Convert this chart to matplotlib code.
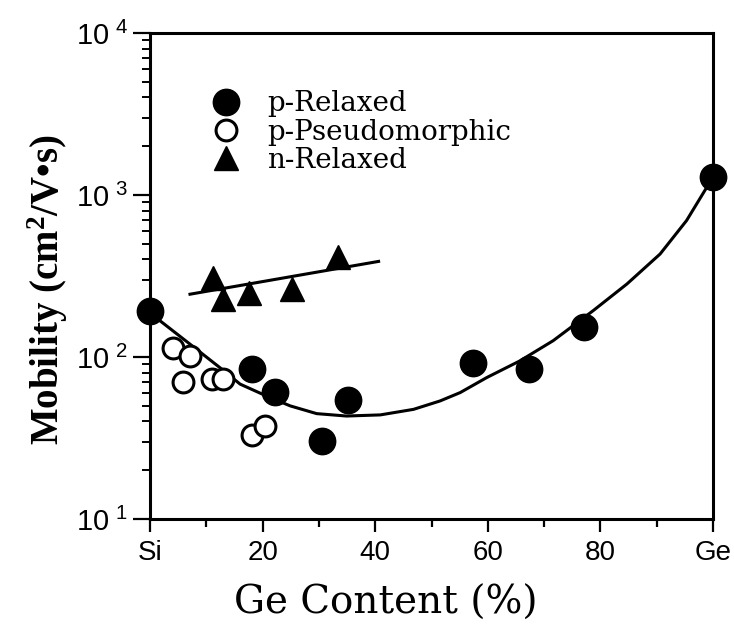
import numpy as np
import matplotlib
matplotlib.use('Agg')
import matplotlib.pyplot as plt
from matplotlib.ticker import FixedLocator, FixedFormatter, LogLocator, NullFormatter

plt.rcParams['font.family'] = ['Liberation Sans', 'DejaVu Sans']
plt.rcParams['mathtext.fontset'] = 'custom'
plt.rcParams['mathtext.rm'] = 'Liberation Serif'
plt.rcParams['mathtext.bf'] = 'Liberation Serif:bold'

# data (Ge content in %, mobility in cm2/Vs)
p_relaxed_x = [0, 18.1, 22.2, 30.5, 35.2, 57.3, 67.4, 77.1, 100]
p_relaxed_y = [191, 84, 61, 30.5, 54, 92, 84, 154, 1286]

p_pseudo_x = [4.1, 7.1, 5.9, 11.0, 13.0, 18.1, 20.4]
p_pseudo_y = [114, 102, 70, 73, 73, 33, 37.5]

n_relaxed_x = [11.2, 13.0, 17.5, 25.2, 33.3]
n_relaxed_y = [307, 228, 250, 263, 412]

# hand-drawn guide lines from the figure
p_curve_x = [0, 1.8, 7.1, 12.4, 16.0, 20.7, 24.9, 29.6, 34.9, 40.9, 46.8, 51.5,
             55.1, 59.8, 65.7, 71.6, 78.7, 84.7, 90.6, 95.3, 98.9, 100]
p_curve_y = [191, 167, 120, 86, 68, 57.4, 49.9, 44.7, 43.2, 43.9, 47.5, 53.5,
             60.3, 74.6, 94.6, 126, 193, 282, 432, 695, 1116, 1286]

n_line_x = [7.1, 40.6]
n_line_y = [244, 389]

x_ticks = [0, 20, 40, 60, 80, 100]
x_labels = ['Si', '20', '40', '60', '80', 'Ge']
y_ticks = [10, 100, 1000, 10000]
y_labels = [r'$\mathregular{10^{\ 1}}$', r'$\mathregular{10^{\ 2}}$',
            r'$\mathregular{10^{\ 3}}$', r'$\mathregular{10^{\ 4}}$']

fig = plt.figure(figsize=(7.34, 6.35), dpi=100)
ax = fig.add_axes([0.2044, 0.1827, 0.767, 0.7654])

ax.plot(p_curve_x, p_curve_y, color='black', lw=2.2, zorder=2, clip_on=False)
ax.plot(n_line_x, n_line_y, color='black', lw=2.2, zorder=2)

ax.plot(p_relaxed_x, p_relaxed_y, 'o', ms=19, color='black', ls='none',
        zorder=4, clip_on=False, label='p-Relaxed')
ax.plot(p_pseudo_x, p_pseudo_y, 'o', ms=15, mfc='white', mec='black', mew=2.2,
        ls='none', zorder=3, clip_on=False, label='p-Pseudomorphic')
ax.plot(n_relaxed_x, n_relaxed_y, '^', ms=17, color='black', ls='none',
        zorder=4, label='n-Relaxed')

ax.set_yscale('log')
ax.set_xlim(0, 100)
ax.set_ylim(10, 10000)

ax.xaxis.set_major_locator(FixedLocator(x_ticks))
ax.xaxis.set_major_formatter(FixedFormatter(x_labels))
ax.xaxis.set_minor_locator(FixedLocator([10, 30, 50, 70, 90]))
ax.yaxis.set_major_locator(FixedLocator(y_ticks))
ax.yaxis.set_major_formatter(FixedFormatter(y_labels))
ax.yaxis.set_minor_locator(LogLocator(base=10, subs=np.arange(2, 10)))
ax.yaxis.set_minor_formatter(NullFormatter())

ax.tick_params(axis='both', which='major', direction='out', width=1.6)
ax.tick_params(axis='x', which='major', length=9, pad=6, labelsize=20)
ax.tick_params(axis='x', which='minor', direction='out', length=6, width=1.6)
ax.tick_params(axis='y', which='major', length=12, pad=4, labelsize=21)
ax.tick_params(axis='y', which='minor', direction='out', length=6, width=1.4)

for s in ax.spines.values():
    s.set_linewidth(2.2)

ax.set_xlabel('Ge Content (%)', fontsize=28, family='DejaVu Serif')
ax.xaxis.set_label_coords(0.419, -0.135)
ax.set_ylabel('Mobility (cm$\\mathbf{^{2}}$/V\u2022s)', fontsize=28,
              family='Liberation Serif', fontweight='bold')
ax.yaxis.set_label_coords(-0.142, 0.471)

leg = ax.legend(loc='upper left', bbox_to_anchor=(0.065, 0.905), frameon=False,
                prop={'family': 'DejaVu Serif', 'size': 20}, handletextpad=0.5,
                labelspacing=0.05, numpoints=1, borderaxespad=0)

fig.savefig('out.png', dpi=100)
